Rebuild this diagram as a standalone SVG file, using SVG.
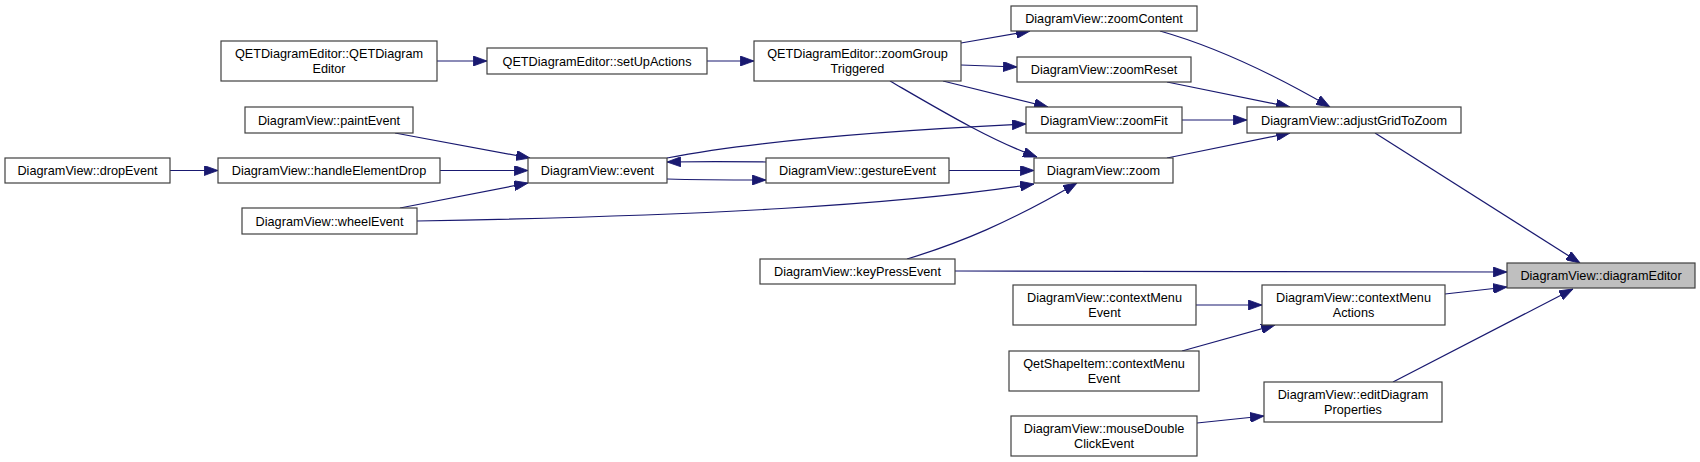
<svg xmlns="http://www.w3.org/2000/svg" width="1700" height="462" viewBox="0 0 1700 462">
<defs>
<marker id="ah" markerUnits="userSpaceOnUse" markerWidth="14" markerHeight="10" viewBox="0 0 13 9.4" refX="13" refY="4.7" orient="auto">
<path d="M0,0 L13,4.7 L0,9.4 z" fill="#191970" stroke="#191970" stroke-width="0.8"/>
</marker>
</defs>
<style>
.n rect{fill:#ffffff;stroke:#404040;stroke-width:1.2}
.n.hl rect{fill:#bfbfbf}
.n text{font-family:"Liberation Sans",Arial,sans-serif;font-size:12.7px;fill:#000;text-anchor:middle}
#edges path{fill:none;stroke:#191970;stroke-width:1.2;marker-end:url(#ah)}
</style>
<rect width="1700" height="462" fill="#ffffff"/>
<g id="edges">
<path d="M437,61 L487,61"/>
<path d="M707,61 L754,61"/>
<path d="M961,43 L1030,31"/>
<path d="M961,65 L1017,67"/>
<path d="M943,81 L1048,107"/>
<path d="M890,81 C940,110 990,140 1037,157"/>
<path d="M1160,31 C1220,48 1280,78 1330,107"/>
<path d="M1167,82 L1290,107"/>
<path d="M1182,120 L1247,120"/>
<path d="M1167,158 L1290,133"/>
<path d="M1375,133 L1580,263"/>
<path d="M395,133 L530,158"/>
<path d="M440,170.5 L528,170.5"/>
<path d="M400,208 L528,183"/>
<path d="M170,170.5 L218,170.5"/>
<path d="M667,179 C700,180 730,180 766,180"/>
<path d="M766,162 C730,161.5 700,161.5 667,162"/>
<path d="M667,158 C760,140 900,130 1026,124"/>
<path d="M949,170.5 L1034,170.5"/>
<path d="M417,221 C700,216 900,205 1034,184"/>
<path d="M907,259 C960,243 1010,222 1077,183"/>
<path d="M955,271 C1100,271 1350,272 1507,272"/>
<path d="M1196,305 L1262,305"/>
<path d="M1182,351 L1275,325"/>
<path d="M1445,294 L1507,287"/>
<path d="M1197,423 L1264,416"/>
<path d="M1393,382 L1573,289"/>
</g>
<g id="n_qetde" class="n"><rect x="221" y="41" width="216" height="40"/><text x="329" y="57.5">QETDiagramEditor::QETDiagram</text><text x="329" y="72.5">Editor</text></g>
<g id="n_setup" class="n"><rect x="487" y="48" width="220" height="26"/><text x="597" y="65.5">QETDiagramEditor::setUpActions</text></g>
<g id="n_zgt" class="n"><rect x="754" y="41" width="207" height="40"/><text x="857.5" y="57.5">QETDiagramEditor::zoomGroup</text><text x="857.5" y="72.5">Triggered</text></g>
<g id="n_zoomcontent" class="n"><rect x="1011" y="6" width="186" height="25"/><text x="1104" y="23">DiagramView::zoomContent</text></g>
<g id="n_zoomreset" class="n"><rect x="1017" y="57" width="174" height="25"/><text x="1104" y="74">DiagramView::zoomReset</text></g>
<g id="n_zoomfit" class="n"><rect x="1026" y="107" width="156" height="26"/><text x="1104" y="124.5">DiagramView::zoomFit</text></g>
<g id="n_adjust" class="n"><rect x="1247" y="107" width="214" height="26"/><text x="1354" y="124.5">DiagramView::adjustGridToZoom</text></g>
<g id="n_paint" class="n"><rect x="245" y="107" width="168" height="26"/><text x="329" y="124.5">DiagramView::paintEvent</text></g>
<g id="n_drop" class="n"><rect x="5" y="158" width="165" height="25"/><text x="87.5" y="175">DiagramView::dropEvent</text></g>
<g id="n_hed" class="n"><rect x="218" y="158" width="222" height="25"/><text x="329" y="175">DiagramView::handleElementDrop</text></g>
<g id="n_wheel" class="n"><rect x="242" y="208" width="175" height="26"/><text x="329.5" y="225.5">DiagramView::wheelEvent</text></g>
<g id="n_event" class="n"><rect x="528" y="158" width="139" height="25"/><text x="597.5" y="175">DiagramView::event</text></g>
<g id="n_gesture" class="n"><rect x="766" y="158" width="183" height="25"/><text x="857.5" y="175">DiagramView::gestureEvent</text></g>
<g id="n_zoom" class="n"><rect x="1034" y="158" width="139" height="25"/><text x="1103.5" y="175">DiagramView::zoom</text></g>
<g id="n_keypress" class="n"><rect x="760" y="259" width="195" height="25"/><text x="857.5" y="276">DiagramView::keyPressEvent</text></g>
<g id="n_cme" class="n"><rect x="1013" y="285" width="183" height="40"/><text x="1104.5" y="301.5">DiagramView::contextMenu</text><text x="1104.5" y="316.5">Event</text></g>
<g id="n_qsi" class="n"><rect x="1009" y="351" width="190" height="40"/><text x="1104" y="367.5">QetShapeItem::contextMenu</text><text x="1104" y="382.5">Event</text></g>
<g id="n_mdc" class="n"><rect x="1011" y="416" width="186" height="40"/><text x="1104" y="432.5">DiagramView::mouseDouble</text><text x="1104" y="447.5">ClickEvent</text></g>
<g id="n_cma" class="n"><rect x="1262" y="285" width="183" height="40"/><text x="1353.5" y="301.5">DiagramView::contextMenu</text><text x="1353.5" y="316.5">Actions</text></g>
<g id="n_edp" class="n"><rect x="1264" y="382" width="178" height="40"/><text x="1353" y="398.5">DiagramView::editDiagram</text><text x="1353" y="413.5">Properties</text></g>
<g id="n_de" class="n hl"><rect x="1507" y="263" width="188" height="25"/><text x="1601" y="280">DiagramView::diagramEditor</text></g>
</svg>
